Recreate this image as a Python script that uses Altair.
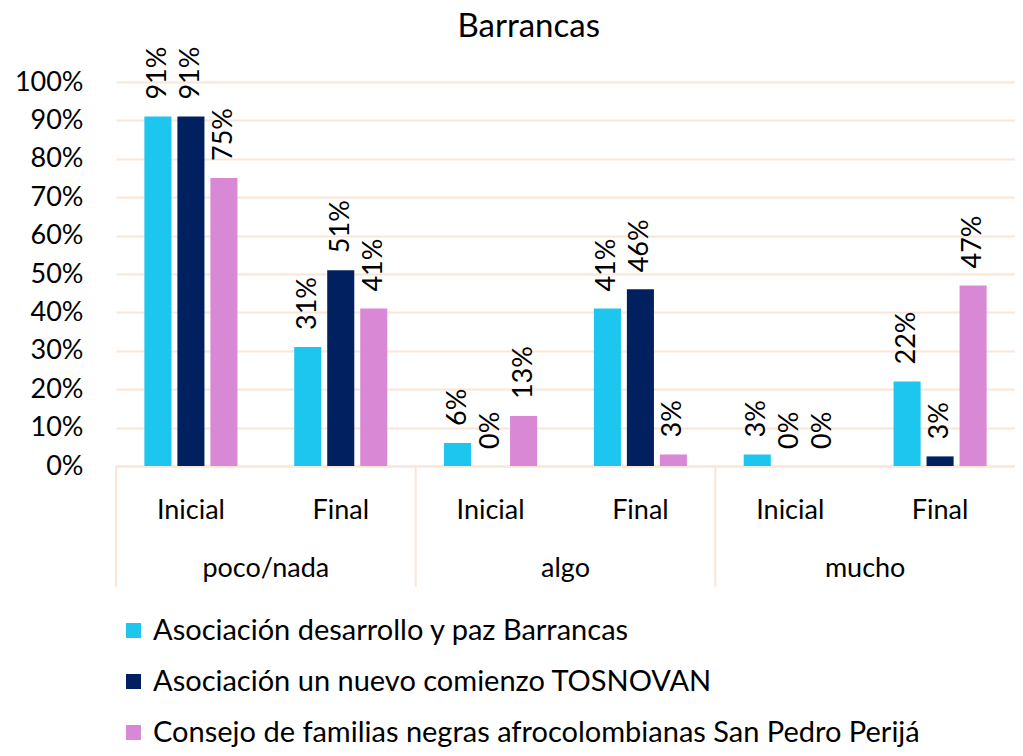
import altair as alt
import pandas as pd

# ---- data ----
grupos = ["poco/nada", "algo", "mucho"]
momentos = ["Inicial", "Final"]
series = [
    "Asociación desarrollo y paz Barrancas",
    "Asociación un nuevo comienzo TOSNOVAN",
    "Consejo de familias negras afrocolombianas San Pedro Perijá",
]
colores = ["#1CC6EE", "#002060", "#D988D6"]
# order: poco/nada Inicial, poco/nada Final, algo Inicial, algo Final, mucho Inicial, mucho Final
v_desarrollo = [0.91, 0.31, 0.06, 0.41, 0.03, 0.22]
v_tosnovan = [0.91, 0.51, 0.00, 0.46, 0.00, 0.025]
v_consejo = [0.75, 0.41, 0.13, 0.03, 0.00, 0.47]
y_ticks = [0, 0.1, 0.2, 0.3, 0.4, 0.5, 0.6, 0.7, 0.8, 0.9, 1.0]

subs = [f"{g}|{m}" for g in grupos for m in momentos]
rows = []
for s, vals in zip(series, [v_desarrollo, v_tosnovan, v_consejo]):
    for sub, v in zip(subs, vals):
        rows.append({"sub": sub, "serie": s, "valor": v})
df = pd.DataFrame(rows)
df_sep = pd.DataFrame({"sub": [f"{g}|Inicial" for g in grupos]})
df_grp = pd.DataFrame({"sub": [f"{g}|Inicial" for g in grupos], "grupo": grupos})

FONT = "Lato"
GRID = "#FBE5D6"
FS = 27
W, H = 899, 384

xscale = alt.Scale(domain=subs, paddingInner=0, paddingOuter=0)
yscale = alt.Scale(domain=[0, 1])
x_axis = alt.Axis(
    title=None,
    labelExpr="split(datum.label, '|')[1]",
    labelAngle=0,
    labelFontSize=FS,
    labelFont=FONT,
    labelColor="black",
    labelPadding=52,
    labelBaseline="alphabetic",
    ticks=False,
    tickSize=0,
    domainColor=GRID,
    domainWidth=2,
    grid=False,
)
y_axis = alt.Axis(
    title=None,
    format=".0%",
    values=y_ticks,
    domain=False,
    ticks=False,
    tickSize=0,
    labelPadding=33,
    labelFontSize=FS,
    labelFont=FONT,
    labelColor="black",
    gridColor=GRID,
    gridWidth=2,
)
x_enc = alt.X("sub:N", sort=subs, scale=xscale, axis=x_axis)
y_enc = alt.Y("valor:Q", scale=yscale, axis=y_axis)
xoff = alt.XOffset("serie:N", sort=series,
                   scale=alt.Scale(domain=series, paddingInner=0.18, paddingOuter=0.86))

base = alt.Chart(df)

bars = base.mark_bar().encode(
    x=x_enc,
    xOffset=xoff,
    y=y_enc,
    color=alt.Color(
        "serie:N",
        sort=series,
        scale=alt.Scale(domain=series, range=colores),
        legend=alt.Legend(
            title=None,
            orient="none",
            legendX=3,
            legendY=534,
            direction="vertical",
            symbolType="square",
            symbolSize=225,
            symbolStrokeWidth=0,
            labelFontSize=29,
            labelFont=FONT,
            labelColor="black",
            labelLimit=0,
            labelOffset=5,
            rowPadding=21,
            padding=0,
        ),
    ),
)

labels = base.mark_text(
    angle=270, align="left", baseline="middle", dx=17, fontSize=FS, font=FONT, color="black"
).encode(
    x=x_enc,
    xOffset=xoff,
    y=y_enc,
    text=alt.Text("valor:Q", format=".0%"),
)

seps = alt.Chart(df_sep).mark_rule(color=GRID, strokeWidth=2).encode(
    x=alt.X("sub:N", sort=subs, scale=xscale, axis=x_axis, bandPosition=0),
    y=alt.value(H),
    y2=alt.value(H + 121),
)

grp_labels = alt.Chart(df_grp).mark_text(
    align="center", baseline="alphabetic", fontSize=FS, font=FONT, color="black"
).encode(
    x=alt.X("sub:N", sort=subs, scale=xscale, axis=x_axis, bandPosition=1),
    y=alt.value(H + 111),
    text="grupo:N",
)

chart = (
    alt.layer(bars, labels, seps, grp_labels)
    .properties(
        width=W,
        height=H,
        title=alt.TitleParams(
            "Barrancas", fontSize=33, font=FONT, fontWeight="normal",
            anchor="middle", frame="bounds", offset=3, dx=14, color="black",
        ),
        autosize=alt.AutoSizeParams(type="none"),
        padding={"left": 108, "top": 74, "right": 0, "bottom": 282},
    )
    .configure_view(stroke=None)
)

chart.save("out.html", embed_options={"renderer": "svg", "actions": False})
